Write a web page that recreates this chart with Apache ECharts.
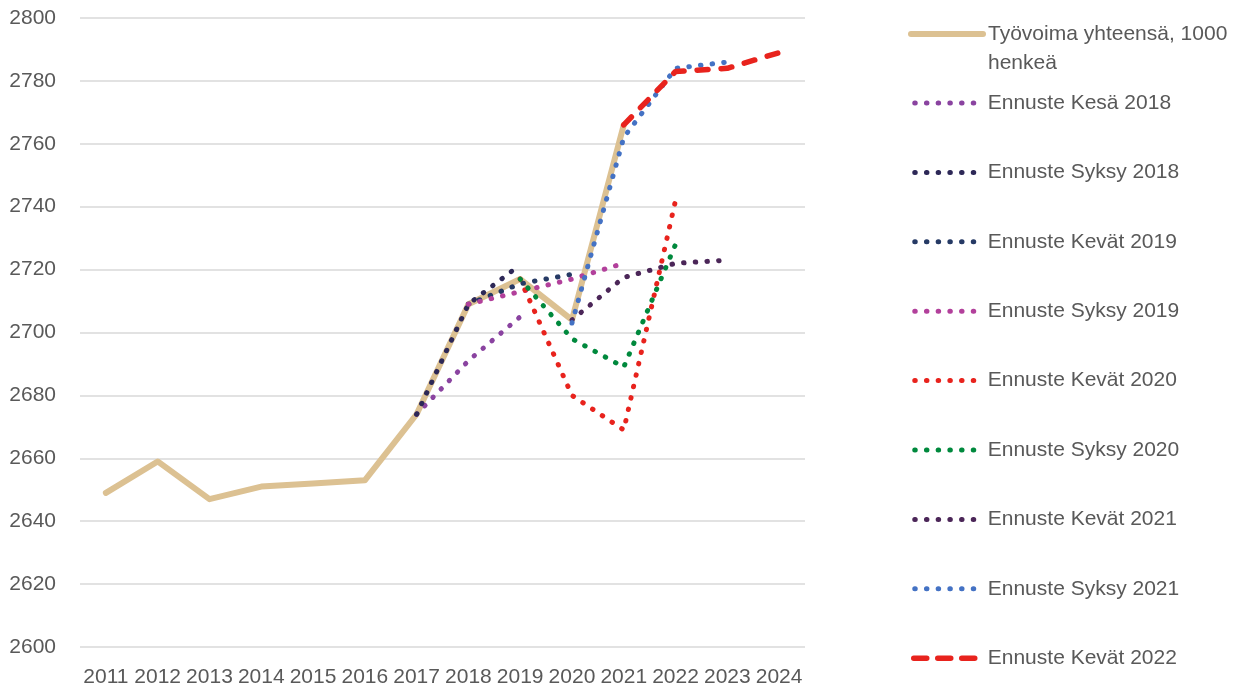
<!DOCTYPE html>
<html><head><meta charset="utf-8">
<script src="https://cdn.jsdelivr.net/npm/echarts@6/dist/echarts.min.js"></script>
<style>html,body{margin:0;padding:0;background:#fff}#c{width:1242px;height:688px}</style>
</head><body><div id="c"></div><script>
const years = ['2011','2012','2013','2014','2015','2016','2017','2018','2019','2020','2021','2022','2023','2024'];
const yTicks = { min: 2600, max: 2800, interval: 20 };
const tyovoima  = [2649, 2659, 2647, 2651, 2652, 2653, 2674, 2709, 2717, 2704, 2766, null, null, null];
const kesa2018  = [null, null, null, null, null, null, 2674, 2691, 2705, null, null, null, null, null];
const syksy2018 = [null, null, null, null, null, null, 2674, 2709, 2721.5, null, null, null, null, null];
const kevat2019 = [null, null, null, null, null, null, null, 2709, 2715.5, 2718.5, null, null, null, null];
const syksy2019 = [null, null, null, null, null, null, null, 2709, 2713, 2717, 2722, null, null, null];
const kevat2020 = [null, null, null, null, null, null, null, null, 2717, 2680, 2669, 2742, null, null];
const syksy2020 = [null, null, null, null, null, null, null, null, 2717, 2698, 2689, 2728, null, null];
const kevat2021 = [null, null, null, null, null, null, null, null, null, 2704, 2717.5, 2722, 2723, null];
const syksy2021 = [null, null, null, null, null, null, null, null, null, 2703, 2762, 2784, 2786, null];
const kevat2022 = [null, null, null, null, null, null, null, null, null, null, 2766, 2783, 2784, 2789];

const mainName = 'Työvoima yhteensä, 1000 henkeä';
const forecasts = [
  ['Ennuste Kesä 2018', kesa2018, '#8a43a0'],
  ['Ennuste Syksy 2018', syksy2018, '#2d2857'],
  ['Ennuste Kevät 2019', kevat2019, '#263a65'],
  ['Ennuste Syksy 2019', syksy2019, '#b2409b'],
  ['Ennuste Kevät 2020', kevat2020, '#e8231d'],
  ['Ennuste Syksy 2020', syksy2020, '#00893d'],
  ['Ennuste Kevät 2021', kevat2021, '#4b2658'],
  ['Ennuste Syksy 2021', syksy2021, '#4472c4']
];
const lastName = 'Ennuste Kevät 2022';

const FONT = 'Liberation Sans';
const TXT = '#595959';
const MAIN_COLOR = '#dcc192';
const RED = '#e8231d';
const DOT = [0.5, 11.2];
const DASH = [11, 13];

const series = [{
  name: mainName, type: 'line', data: tyovoima, symbol: 'none',
  lineStyle: { color: MAIN_COLOR, width: 6, cap: 'round', join: 'round' },
  itemStyle: { color: MAIN_COLOR }, z: 2
}];
forecasts.forEach(f => series.push({
  name: f[0], type: 'line', data: f[1], symbol: 'none',
  lineStyle: { color: f[2], width: 5, type: DOT, cap: 'round' },
  itemStyle: { color: f[2] }, z: 3
}));
series.push({
  name: lastName, type: 'line', data: kevat2022, symbol: 'none',
  lineStyle: { color: RED, width: 5.5, type: DASH, cap: 'round' },
  itemStyle: { color: RED }, z: 4
});

const legendText = { fontSize: 21, color: TXT, fontFamily: FONT };
const forecastLegendData = forecasts.map(f => ({
  name: f[0],
  itemStyle: { opacity: 0 },
  lineStyle: { color: f[2], width: 5, type: DOT, cap: 'round', dashOffset: -4 }
})).concat([{
  name: lastName,
  itemStyle: { opacity: 0 },
  lineStyle: { color: RED, width: 5.5, type: [13, 11], cap: 'round', dashOffset: -3 }
}]);

const chart = echarts.init(document.getElementById('c'), null, { renderer: 'canvas' });
chart.setOption({
  animation: false,
  backgroundColor: '#ffffff',
  grid: { left: 80, right: 437, top: 18, bottom: 41, containLabel: false },
  xAxis: {
    type: 'category', data: years, boundaryGap: true,
    axisLine: { show: false }, axisTick: { show: false },
    axisLabel: { interval: 0, margin: 20, fontSize: 21, color: TXT, fontFamily: FONT }
  },
  yAxis: {
    type: 'value', min: yTicks.min, max: yTicks.max, interval: yTicks.interval,
    axisLine: { show: false }, axisTick: { show: false },
    splitLine: { lineStyle: { color: '#d9d9d9', width: 1.5 } },
    axisLabel: { margin: 24, fontSize: 21, color: TXT, fontFamily: FONT, formatter: v => String(v) }
  },
  legend: [{
    orient: 'vertical', left: 908, top: -9.5, padding: 0, itemWidth: 72, itemHeight: 24,
    data: [{
      name: mainName,
      itemStyle: { opacity: 0 },
      lineStyle: { color: MAIN_COLOR, width: 6, cap: 'round', type: 'solid' }
    }],
    formatter: () => '\nTyövoima yhteensä, 1000\nhenkeä',
    textStyle: Object.assign({ lineHeight: 29 }, legendText)
  }, {
    orient: 'vertical', left: 908, top: 91, padding: 0, itemWidth: 72, itemHeight: 24, itemGap: 45.4,
    data: forecastLegendData,
    textStyle: Object.assign({ lineHeight: 24 }, legendText)
  }],
  series: series
});
</script></body></html>
